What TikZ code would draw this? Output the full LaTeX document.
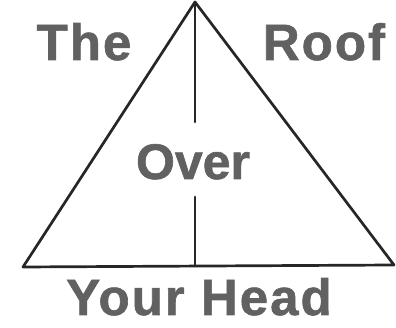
\documentclass[tikz,border=0pt]{standalone}
\usepackage{fontspec}
\setmainfont{Liberation Sans}
\newfontfamily\heavyfont[FakeBold=1.2,LetterSpace=4]{Liberation Sans Bold}
\newfontfamily\heavytight[FakeBold=1.2]{Liberation Sans Bold}
\begin{document}
\begin{tikzpicture}[x=1pt,y=1pt,
  lbl/.style={anchor=base,inner sep=0pt,font=\heavyfont\fontsize{51}{51}\selectfont,text=black!62},
  lbltight/.style={lbl,font=\heavytight\fontsize{50}{50}\selectfont},
  edge/.style={draw=black!85,line width=2.7pt,line join=round,line cap=round}]
\useasboundingbox (0,0) rectangle (396,328);
\coordinate (apex) at (195,326);
\coordinate (bl) at (23,61);
\coordinate (br) at (394,63);
\coordinate (vtop) at (195,206);
\coordinate (vbot) at (195,131);
\coordinate (vbase) at (195,62);
\draw[edge] (apex) -- (bl) -- (br) -- cycle;
\draw[edge] (apex) -- (vtop);
\draw[edge] (vbot) -- (vbase);
\node[lbl] (the) at (84,268) {The};
\node[lbl] (roof) at (324,268) {Roof};
\node[lbltight] (over) at (193,149) {Over};
\node[lbl] (head) at (199,13) {Your Head};
\end{tikzpicture}
\end{document}
